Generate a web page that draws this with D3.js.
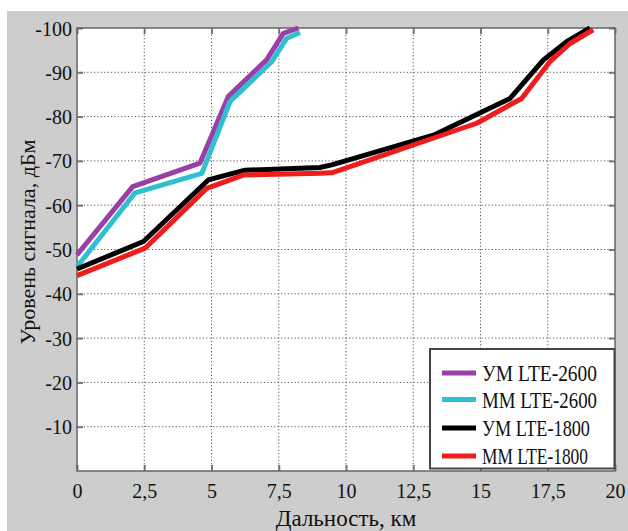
<!DOCTYPE html>
<html lang="ru">
<head>
  <meta charset="UTF-8">
  <title>Уровень сигнала LTE</title>
  <style>
    body { margin: 0; background: #fff; }
    svg text { font-family: "Liberation Serif", "DejaVu Serif", "Times New Roman", serif; }
  </style>
  <script src="https://d3js.org/d3.v7.min.js"></script>
</head>
<body>
  <svg id="chart" width="628" height="531"></svg>
  <script>
    // tick labels
    const xTicks = [0, 2.5, 5, 7.5, 10, 12.5, 15, 17.5, 20];
    const yTicks = [-10, -20, -30, -40, -50, -60, -70, -80, -90, -100];

    // series: distance, km / level, dBm
    const seriesNames = ['УМ LTE-2600', 'ММ LTE-2600', 'УМ LTE-1800', 'ММ LTE-1800'];
    const seriesColors = ['#9a3fa8', '#30bfd0', '#000000', '#ee1c1c'];

    const distUM2600 = [0, 2.07, 4.57, 5.62, 7.05, 7.67, 8.23];
    const levelUM2600 = [-48.8, -64.2, -69.5, -84.5, -92.8, -98.8, -100];

    const distMM2600 = [0, 2.16, 4.64, 5.69, 7.24, 7.8, 8.29];
    const levelMM2600 = [-46.1, -62.8, -67.2, -83.4, -92.4, -97.7, -99];

    const distUM1800 = [0, 2.47, 4.88, 6.25, 9.03, 9.47, 13.25, 16.1, 17.34, 18.2, 19.07];
    const levelUM1800 = [-45.6, -51.8, -65.7, -67.9, -68.5, -69.1, -75.8, -84.1, -92.8, -96.9, -100];

    const distMM1800 = [0, 2.53, 4.82, 6.18, 9.03, 9.47, 14.86, 16.53, 17.58, 18.33, 19.19];
    const levelMM1800 = [-44.1, -50.3, -63.8, -66.8, -67.2, -67.3, -78.5, -84.1, -92.4, -96.5, -99.6];

    const seriesDist = [distUM2600, distMM2600, distUM1800, distMM1800];
    const seriesLevel = [levelUM2600, levelMM2600, levelUM1800, levelMM1800];

    const serif = '"Liberation Serif", "DejaVu Serif", serif';
    const svg = d3.select('#chart');
    const plot = { left: 77, top: 28, right: 615, bottom: 471 };

    // grey figure background
    svg.append('rect')
      .attr('x', 7).attr('y', 11)
      .attr('width', 621).attr('height', 520)
      .attr('fill', '#cdcdcd');

    svg.append('rect')
      .attr('x', plot.left).attr('y', plot.top)
      .attr('width', plot.right - plot.left).attr('height', plot.bottom - plot.top)
      .attr('fill', '#fff');

    const x = d3.scaleLinear().domain([0, 20]).range([plot.left, plot.right]);
    const y = d3.scaleLinear().domain([0, -100]).range([plot.bottom, plot.top]);

    // dotted grid
    const grid = svg.append('g')
      .attr('stroke', '#555')
      .attr('stroke-width', 1)
      .attr('stroke-dasharray', '1.2,2.2');
    grid.selectAll('line.v')
      .data(xTicks.slice(1, -1))
      .enter().append('line')
      .attr('x1', d => x(d)).attr('x2', d => x(d))
      .attr('y1', plot.top).attr('y2', plot.bottom);
    grid.selectAll('line.h')
      .data(yTicks.slice(0, -1))
      .enter().append('line')
      .attr('x1', plot.left).attr('x2', plot.right)
      .attr('y1', d => y(d)).attr('y2', d => y(d));

    // inner ticks on all sides (matlab style)
    const xAxis = d3.axisBottom(x).tickValues(xTicks).tickSize(-6).tickFormat(d => String(d).replace('.', ','));
    const yAxis = d3.axisLeft(y).tickValues(yTicks).tickSize(-6).tickFormat(d => d);

    const gx = svg.append('g').attr('transform', `translate(0,${plot.bottom})`).call(xAxis);
    const gy = svg.append('g').attr('transform', `translate(${plot.left},0)`).call(yAxis);
    svg.append('g').attr('transform', `translate(0,${plot.top})`)
      .call(d3.axisTop(x).tickValues(xTicks).tickSize(-6).tickFormat(''));
    svg.append('g').attr('transform', `translate(${plot.right},0)`)
      .call(d3.axisRight(y).tickValues(yTicks).tickSize(-6).tickFormat(''));

    svg.selectAll('.domain').remove();
    svg.selectAll('g').attr('font-family', serif);
    svg.selectAll('.tick line').attr('stroke', '#777').attr('stroke-width', 2);

    gx.selectAll('text')
      .attr('y', 0).attr('dy', 0)
      .attr('transform', 'translate(0,27)')
      .attr('font-family', serif)
      .attr('font-size', 20).attr('fill', '#111');
    gy.selectAll('text')
      .attr('x', -5).attr('dy', '0.35em')
      .attr('font-family', serif)
      .attr('font-size', 20).attr('fill', '#111');

    // frame
    svg.append('rect')
      .attr('x', plot.left).attr('y', plot.top)
      .attr('width', plot.right - plot.left).attr('height', plot.bottom - plot.top)
      .attr('fill', 'none').attr('stroke', '#666').attr('stroke-width', 1.5);

    // series lines
    const line = d3.line().x(d => x(d[0])).y(d => y(d[1]));
    seriesNames.forEach((name, i) => {
      const pts = seriesDist[i].map((d, j) => [d, seriesLevel[i][j]]);
      svg.append('path')
        .datum(pts)
        .attr('d', line)
        .attr('fill', 'none')
        .attr('stroke', seriesColors[i])
        .attr('stroke-width', 5)
        .attr('stroke-linejoin', 'round');
    });

    // legend
    const legend = svg.append('g');
    legend.append('rect')
      .attr('x', 430).attr('y', 349)
      .attr('width', 184.5).attr('height', 119.5)
      .attr('fill', '#fff').attr('stroke', '#444').attr('stroke-width', 2);
    const legY = [373, 399.5, 428, 456];
    const legW = [115, 115, 108, 106];
    seriesNames.forEach((name, i) => {
      legend.append('line')
        .attr('x1', 442).attr('x2', 476)
        .attr('y1', legY[i]).attr('y2', legY[i])
        .attr('stroke', seriesColors[i]).attr('stroke-width', 5);
      legend.append('text')
        .attr('x', 482).attr('y', legY[i] + 8)
        .attr('textLength', legW[i])
        .attr('lengthAdjust', 'spacingAndGlyphs')
        .attr('font-family', serif)
        .attr('font-size', 23)
        .attr('fill', '#111')
        .text(name);
    });

    // axis titles
    svg.append('text')
      .attr('x', 346).attr('y', 526)
      .attr('text-anchor', 'middle')
      .attr('font-family', serif)
      .attr('font-size', 23).attr('fill', '#111')
      .text('Дальность, км');
    svg.append('text')
      .attr('transform', 'translate(35,242) rotate(-90)')
      .attr('text-anchor', 'middle')
      .attr('font-family', serif)
      .attr('font-size', 22).attr('fill', '#111')
      .text('Уровень сигнала, дБм');
  </script>
</body>
</html>
